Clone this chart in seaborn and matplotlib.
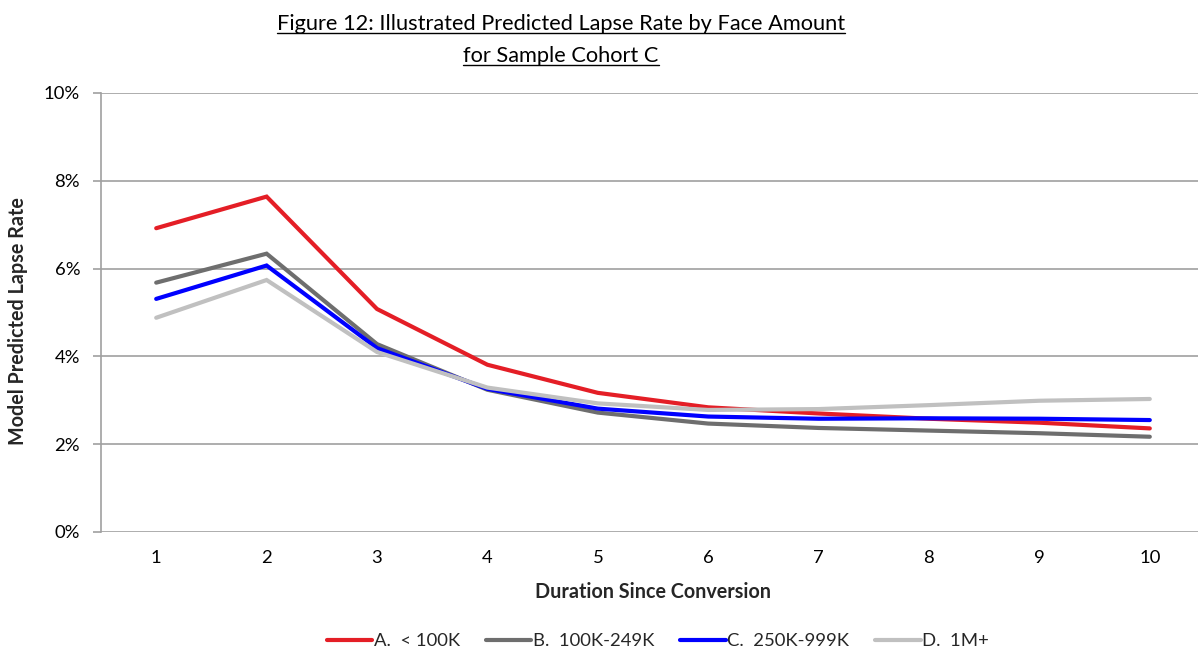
import matplotlib
matplotlib.use("Agg")
import matplotlib.pyplot as plt
from matplotlib.lines import Line2D
import pandas as pd
import seaborn as sns

# Duration since conversion (policy years)
durations = [1, 2, 3, 4, 5, 6, 7, 8, 9, 10]

# Model predicted lapse rates (%) by face amount band
lapse_a = [6.92, 7.64, 5.08, 3.81, 3.17, 2.84, 2.70, 2.58, 2.49, 2.36]
lapse_b = [5.68, 6.34, 4.28, 3.24, 2.72, 2.47, 2.37, 2.31, 2.25, 2.17]
lapse_c = [5.31, 6.07, 4.19, 3.26, 2.81, 2.63, 2.58, 2.59, 2.58, 2.55]
lapse_d = [4.88, 5.74, 4.10, 3.29, 2.93, 2.78, 2.80, 2.89, 2.99, 3.03]

series_names = ["A.  < 100K", "B.  100K-249K", "C.  250K-999K", "D.  1M+"]
series_colors = ["#E41E26", "#6E6E6E", "#0000FF", "#C0C0C0"]
y_ticks = [0, 2, 4, 6, 8, 10]

frames = []
for name, vals in zip(series_names, [lapse_a, lapse_b, lapse_c, lapse_d]):
    frames.append(pd.DataFrame({"duration": durations, "rate": vals, "band": name}))
df = pd.concat(frames, ignore_index=True)

sns.set_style("white")
plt.rcParams["font.family"] = ["Lato", "DejaVu Sans"]

fig = plt.figure(figsize=(11.98, 6.52), dpi=100)
ax = fig.add_axes([101 / 1198, 1 - 532 / 652, 1104 / 1198, 439 / 652])

sns.lineplot(data=df, x="duration", y="rate", hue="band",
             palette=dict(zip(series_names, series_colors)),
             linewidth=3, ax=ax, legend=False, solid_capstyle="round",
             solid_joinstyle="miter")

grid_color = "#A0A0A0"
ax.set_xlim(0.5, 10.5)
ax.set_ylim(0, 10)
ax.set_yticks(y_ticks)
ax.set_yticklabels([f"{t}%" for t in y_ticks])
ax.set_xticks(durations)
ax.set_xticklabels([str(d) for d in durations])
ax.yaxis.grid(True, color=grid_color, linewidth=1.2)
ax.xaxis.grid(False)
ax.set_axisbelow(True)
for side in ["top", "right", "bottom"]:
    ax.spines[side].set_visible(False)
ax.spines["left"].set_color(grid_color)
ax.spines["left"].set_linewidth(1.2)
ax.tick_params(axis="y", length=6, width=1.2, color=grid_color, pad=9,
               labelsize=13.3, labelcolor="#000000", left=True)
ax.tick_params(axis="x", length=0, pad=13, labelsize=13.3, labelcolor="#000000")

ax.set_xlabel("Duration Since Conversion", fontsize=14.2, fontweight="bold")
ax.xaxis.set_label_coords(0.5, -0.115)
ax.set_ylabel("Model Predicted Lapse Rate", fontsize=14.2, fontweight="bold")
ax.yaxis.set_label_coords(-0.066, 0.48)

# Underlined two-line title
title_lines = ["Figure 12: Illustrated Predicted Lapse Rate by Face Amount",
               "for Sample Cohort C"]
baselines = [29.5, 61.5]
title_texts = []
for line, base in zip(title_lines, baselines):
    t = fig.text(561 / 1198, 1 - base / 652, line, ha="center", va="baseline",
                 fontsize=15.7, color="#000000")
    title_texts.append((t, base))

fig.canvas.draw()
renderer = fig.canvas.get_renderer()
for t, base in title_texts:
    bb = t.get_window_extent(renderer)
    yline = 1 - (base + 3) / 652
    fig.add_artist(Line2D([bb.x0 / 1198, bb.x1 / 1198], [yline, yline],
                          transform=fig.transFigure, color="#000000",
                          linewidth=1.0))

handles = [Line2D([0], [0], color=c, linewidth=3) for c in series_colors]
fig.legend(handles, series_names, loc="center", bbox_to_anchor=(658 / 1198, 1 - 641 / 652),
           ncol=4, frameon=False, fontsize=13.3, handlelength=2.45,
           handletextpad=0.1, columnspacing=1.4)

fig.savefig("out.png", dpi=100)
